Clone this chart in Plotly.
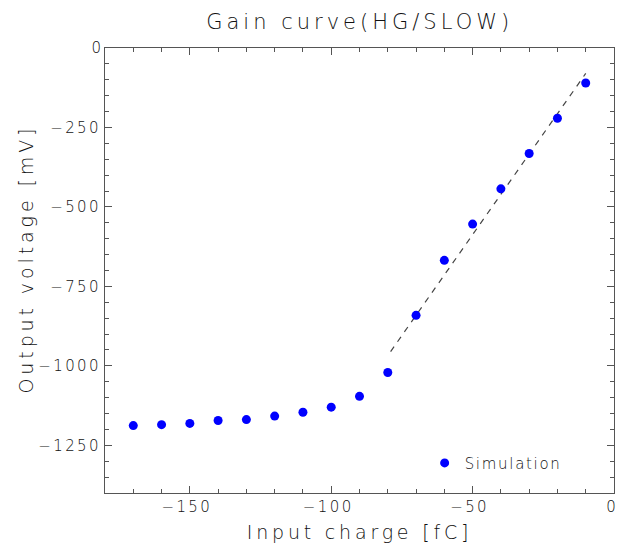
import plotly.graph_objects as go

# Data
charge_fC = [-170, -160, -150, -140, -130, -120, -110, -100, -90, -80,
             -70, -60, -50, -40, -30, -20, -10]
voltage_mV = [-1188, -1185, -1181, -1172, -1169, -1158, -1146, -1130, -1096, -1021,
              -841, -668, -554, -443, -332, -221, -110]
fit_x = [-79, -10]
fit_y = [-955, -80]

x_ticks = [-150, -100, -50, 0]
y_ticks = [0, -250, -500, -750, -1000, -1250]

FONT = "DejaVu Sans"
INK = "#111111"
W = 200


def spaced(text, px):
    return '<span style="letter-spacing:%spx">%s</span>' % (px, text)


def tick_text(v):
    if v == 0:
        return "0"
    return spaced("\u2212" + str(-v), 2.4)


fig = go.Figure()
fig.add_trace(go.Scatter(
    x=fit_x, y=fit_y, mode="lines",
    line=dict(color="#444444", width=1.2, dash="6px,6px"),
    showlegend=False, hoverinfo="skip"))
fig.add_trace(go.Scatter(
    x=charge_fC, y=voltage_mV, mode="markers", name=spaced("Simulation", 1.7),
    marker=dict(color="#0000ff", size=9, line=dict(width=0))))

axis_common = dict(
    showgrid=False, zeroline=False, showline=True, linecolor="#555555", linewidth=1,
    mirror="ticks", ticks="inside", ticklen=7, tickwidth=1, tickcolor="#555555",
    tickfont=dict(family=FONT, size=15, color=INK, weight=W),
    ticklabeloverflow="allow", automargin=False,
)

fig.update_xaxes(
    range=[-180, 0], tickvals=x_ticks, ticktext=[tick_text(v) for v in x_ticks],
    ticklabelshift=-3,
    minor=dict(dtick=10, ticks="inside", ticklen=4, tickcolor="#555555", showgrid=False),
    title=dict(text=spaced("Input charge [fC]", 3.8),
               font=dict(family=FONT, size=19, color=INK, weight=W), standoff=10),
    **axis_common)
fig.update_yaxes(
    range=[-1400, 0], tickvals=y_ticks, ticktext=[tick_text(v) for v in y_ticks],
    minor=dict(dtick=50, ticks="inside", ticklen=4, tickcolor="#555555", showgrid=False),
    **axis_common)

fig.add_annotation(
    text=spaced("Output voltage [mV]", 3.9), textangle=-90,
    xref="paper", yref="paper", x=0, y=0.5, xanchor="center", yanchor="middle",
    xshift=-80, yshift=11, showarrow=False,
    font=dict(family=FONT, size=19, color=INK, weight=W))

fig.update_layout(
    width=618, height=552,
    margin=dict(l=105, r=4, t=48, b=59, autoexpand=False),
    plot_bgcolor="white", paper_bgcolor="white",
    title=dict(text=spaced("Gain curve(HG/SLOW)", 4), x=0.582, xanchor="center", y=0.96, yanchor="middle",
               font=dict(family=FONT, size=21, color=INK, weight=W), automargin=False),
    legend=dict(x=0.628, y=0.067, xanchor="left", yanchor="middle",
                bgcolor="rgba(0,0,0,0)", borderwidth=0,
                font=dict(family=FONT, size=15, color=INK, weight=W)),
    showlegend=True,
)

fig.write_html("out.html")
